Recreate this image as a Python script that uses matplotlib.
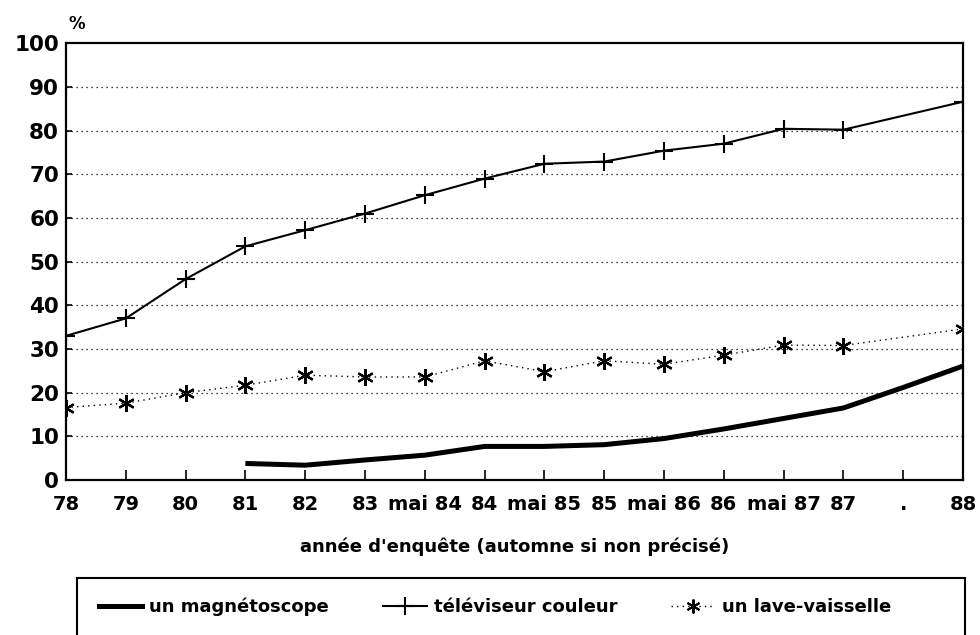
import numpy as np
import matplotlib
matplotlib.use("Agg")
import matplotlib.pyplot as plt
from matplotlib.lines import Line2D
from matplotlib.patches import Rectangle

# survey dates (autumn unless "mai")
periods = ['78', '79', '80', '81', '82', '83', 'mai 84', '84', 'mai 85', '85',
           'mai 86', '86', 'mai 87', '87', '.', '88']

# share of households equipped (%)
tv_idx = [0, 1, 2, 3, 4, 5, 6, 7, 8, 9, 10, 11, 12, 13, 15]
tv = [33.0, 37.0, 46.0, 53.5, 57.2, 61.0, 65.2, 69.0, 72.4, 72.9, 75.4, 77.0, 80.4, 80.2, 86.6]

dish_idx = [0, 1, 2, 3, 4, 5, 6, 7, 8, 9, 10, 11, 12, 13, 15]
dish = [16.6, 17.6, 20.0, 21.7, 24.0, 23.6, 23.6, 27.3, 24.8, 27.3, 26.5, 28.6, 30.9, 30.8, 34.6]

vcr_idx = [3, 4, 5, 6, 7, 8, 9, 10, 11, 12, 13, 14, 15]
vcr = [3.8, 3.4, 4.6, 5.7, 7.7, 7.7, 8.1, 9.5, 11.7, 14.1, 16.5, 21.2, 26.1]

plt.rcParams['font.family'] = ['DejaVu Sans']
plt.rcParams['font.weight'] = 'bold'

fig = plt.figure(figsize=(9.8, 6.35), dpi=100)
ax = fig.add_axes([0.0673, 0.244, 0.9154, 0.688])

asterisk = (6, 2, 0)

ax.plot(vcr_idx, vcr, color='black', lw=3.6, solid_capstyle='butt')
ax.plot(tv_idx, tv, color='black', lw=1.5, marker='+', ms=13, mew=1.5)
ax.plot(dish_idx, dish, color='black', lw=1.0, ls=(0, (1, 3)),
        marker=asterisk, ms=12, mew=1.6)

ax.set_xlim(0, len(periods) - 1)
ax.set_ylim(0, 100)
ax.set_xticks(range(len(periods)))
ax.set_xticklabels(periods, fontsize=14, fontweight='bold')
ax.set_yticks(range(0, 101, 10))
ax.set_yticklabels([str(v) for v in range(0, 101, 10)], fontsize=15.5, fontweight='bold')
ax.tick_params(axis='x', direction='in', length=7, width=1.2, pad=11, top=False)
ax.tick_params(axis='y', direction='in', length=4, width=1.2, pad=5, right=False)

for y in range(10, 100, 10):
    ax.axhline(y, color='black', lw=0.9, ls=(0, (1, 3)), zorder=0)

for side in ['left', 'bottom', 'right', 'top']:
    ax.spines[side].set_linewidth(1.6)

ax.set_xlabel("année d'enquête (automne si non précisé)", fontsize=13,
              fontweight='bold', labelpad=17)
ax.text(0.003, 1.043, '%', transform=ax.transAxes, fontsize=12, fontweight='bold',
        ha='left', va='center')

# legend box runs off the bottom edge of the page
fig.patches.append(Rectangle((77 / 980, -0.05), 888 / 980, 0.05 + 57 / 635,
                             transform=fig.transFigure, fill=False,
                             edgecolor='black', lw=1.5, clip_on=False))

handles = [
    Line2D([], [], color='black', lw=3.6),
    Line2D([], [], color='black', lw=1.5, marker='+', ms=13, mew=1.5),
    Line2D([], [], color='black', lw=1.0, ls=(0, (1, 3)), marker=asterisk, ms=10, mew=1.4),
]
labels = ['un magnétoscope', 'téléviseur couleur', 'un lave-vaisselle']
fig.legend(handles, labels, loc='center', ncol=3,
           bbox_to_anchor=(495 / 980, 1 - 607 / 635), frameon=False,
           prop={'size': 13, 'weight': 'bold'}, handlelength=2.4,
           handletextpad=0.4, borderaxespad=0.0, columnspacing=3.0)

fig.savefig('out.png', dpi=100)
